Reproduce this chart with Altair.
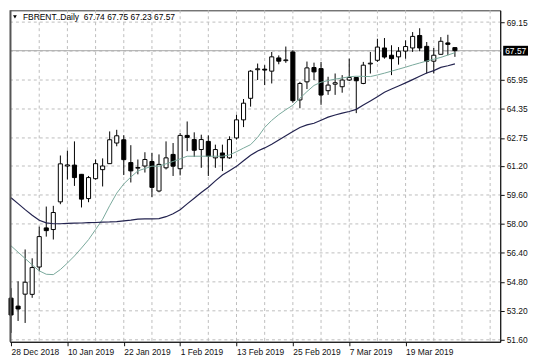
import json
import altair as alt
import pandas as pd

# ---- data (daily Brent candles, 28 Dec 2018 .. 28 Mar 2019) ----
opens = [53.90, 53.46, 54.12, 54.11, 55.62, 57.78, 57.69, 59.22, 61.20, 61.25,
         60.74, 59.40, 60.50, 61.00, 61.33, 62.47, 62.65, 61.39, 61.08, 61.20,
         61.45, 59.82, 61.10, 61.84, 61.05, 62.89, 62.66, 62.11, 62.56, 61.65,
         61.92, 61.65, 62.75, 63.75, 64.94, 66.52, 66.55, 66.44, 67.17, 67.02,
         67.50, 64.85, 65.85, 66.64, 66.58, 65.36, 65.72, 65.58, 65.95, 66.09,
         65.76, 66.84, 67.04, 67.72, 67.32, 67.23, 67.55, 67.72, 68.41, 67.81,
         66.99, 67.37, 68.00, 67.74]
highs = [54.45, 54.83, 56.59, 56.10, 57.85, 58.96, 59.00, 61.78, 62.05, 62.56,
         60.76, 60.65, 61.56, 61.62, 63.11, 63.20, 62.90, 62.35, 61.56, 61.96,
         61.93, 61.84, 62.56, 62.47, 63.02, 63.66, 63.06, 62.93, 62.89, 62.38,
         62.38, 62.84, 64.03, 64.90, 66.50, 66.86, 66.77, 67.50, 67.31, 67.80,
         67.59, 65.85, 66.97, 66.91, 66.95, 66.13, 66.31, 66.22, 67.13, 66.12,
         66.95, 67.50, 68.23, 68.27, 67.87, 67.77, 68.14, 68.60, 68.81, 68.05,
         67.72, 68.32, 68.45, 67.75]
lows = [51.98, 52.64, 52.53, 53.92, 55.38, 57.30, 57.14, 59.09, 60.46, 60.10,
        58.91, 59.20, 60.45, 60.07, 61.33, 62.29, 60.70, 60.29, 60.74, 60.84,
        59.49, 59.75, 61.01, 60.65, 60.68, 62.02, 61.70, 61.10, 60.65, 61.10,
        60.92, 61.60, 62.66, 63.35, 64.48, 65.95, 65.67, 65.76, 66.82, 66.90,
        64.70, 64.39, 65.45, 65.95, 64.58, 65.13, 65.13, 65.25, 65.90, 64.12,
        65.72, 66.31, 66.95, 67.13, 66.22, 66.80, 67.13, 67.50, 67.54, 66.31,
        66.31, 67.37, 67.32, 67.23]
closes = [52.97, 53.30, 54.78, 55.59, 57.30, 57.63, 58.63, 61.32, 61.26, 60.56,
          59.37, 60.56, 61.33, 61.20, 62.65, 62.87, 61.55, 60.93, 61.12, 61.56,
          60.02, 61.29, 61.65, 61.19, 62.89, 62.78, 62.07, 62.66, 61.74, 62.11,
          61.65, 62.66, 63.75, 64.67, 66.44, 66.57, 66.50, 67.23, 66.99, 67.06,
          64.81, 65.76, 66.62, 66.40, 65.12, 65.67, 65.80, 65.95, 66.09, 65.91,
          66.77, 66.88, 67.77, 67.22, 67.13, 67.54, 67.80, 68.36, 67.72, 66.99,
          67.32, 68.09, 67.92, 67.57]

# moving averages
ma_fast = [56.79, 56.44, 56.09, 55.74, 55.41, 55.22, 55.20, 55.48, 55.84, 56.23,
           56.67, 57.13, 57.69, 58.26, 59.01, 59.70, 60.21, 60.59, 60.93, 61.06,
           61.19, 61.19, 61.32, 61.45, 61.59, 61.74, 61.74, 61.74, 61.74, 61.74,
           61.74, 61.81, 61.99, 62.19, 62.38, 62.78, 63.33, 63.72, 64.04, 64.31,
           64.56, 64.94, 65.31, 65.65, 65.83, 65.92, 66.00, 66.06, 66.13, 66.16,
           66.15, 66.14, 66.23, 66.33, 66.44, 66.55, 66.66, 66.78, 66.89, 67.00,
           67.10, 67.20, 67.33, 67.46]
ma_slow = [59.45, 59.12, 58.79, 58.48, 58.20, 58.06, 58.01, 58.01, 58.03, 58.04,
           58.05, 58.07, 58.08, 58.10, 58.11, 58.13, 58.17, 58.21, 58.27, 58.28,
           58.28, 58.29, 58.40, 58.56, 58.78, 59.11, 59.42, 59.74, 60.03, 60.38,
           60.70, 60.94, 61.18, 61.49, 61.79, 62.03, 62.20, 62.40, 62.64, 62.87,
           63.11, 63.33, 63.47, 63.56, 63.73, 63.90, 64.02, 64.12, 64.21, 64.33,
           64.57, 64.79, 65.02, 65.27, 65.45, 65.62, 65.79, 65.97, 66.16, 66.34,
           66.47, 66.65, 66.74, 66.84]

date_labels = ["28 Dec 2018", "10 Jan 2019", "22 Jan 2019", "1 Feb 2019",
               "13 Feb 2019", "25 Feb 2019", "7 Mar 2019", "19 Mar 2019"]
date_ticks = [0, 8, 16, 24, 32, 40, 48, 56]
price_ticks = [51.60, 53.20, 54.80, 56.40, 58.00, 59.60, 61.20, 62.75,
               64.35, 65.95, 69.15]
grid_prices = [51.60, 53.20, 54.80, 56.40, 58.00, 59.60, 61.20, 62.75,
               64.35, 65.95, 67.55, 69.15]
grid_bars = list(range(4, 69, 4))
symbol = "FBRENT..Daily"

# ---- build ----
W, H = 494, 334
FONT = "Liberation Sans"
n = len(closes)
df = pd.DataFrame({"i": list(range(n)), "open": opens, "high": highs,
                   "low": lows, "close": closes, "fast": ma_fast, "slow": ma_slow})
df["up"] = df["close"] >= df["open"]

xscale = alt.Scale(domain=[-0.15, 69.43], nice=False, zero=False)
yscale = alt.Scale(domain=[51.49, 69.80], nice=False, zero=False)
label_expr = json.dumps(date_labels) + "[round(datum.value/8)]"
xaxis = alt.Axis(values=date_ticks, labelExpr=label_expr, labelAlign="left",
                 labelBaseline="top", tickSize=4, labelPadding=2, grid=False,
                 title=None, labelFlush=False, labelOverlap=False)
yaxis = alt.Axis(orient="right", values=price_ticks, format=".2f", tickSize=4,
                 labelPadding=2, grid=False, title=None, labelOverlap=False,
                 labelBaseline="middle")

def X(field):
    return alt.X(field, type="quantitative", scale=xscale, axis=xaxis)

def Y(field):
    return alt.Y(field, type="quantitative", scale=yscale, axis=yaxis)

grid_dash = [3, 3]
vgrid = alt.Chart(pd.DataFrame({"g": grid_bars})).mark_rule(
    color="#bdbdbd", strokeDash=grid_dash, strokeWidth=1).encode(
    x=X("g"), y=alt.value(0), y2=alt.value(H))
hgrid = alt.Chart(pd.DataFrame({"p": grid_prices})).mark_rule(
    color="#bdbdbd", strokeDash=grid_dash, strokeWidth=1).encode(
    y=Y("p"), x=alt.value(0), x2=alt.value(W))

last = closes[-1]
bid = alt.Chart(pd.DataFrame({"p": [last]})).mark_rule(
    color="#a8a8a8", strokeWidth=1).encode(y=Y("p"), x=alt.value(0), x2=alt.value(W))

base = alt.Chart(df)
line_fast = base.mark_line(color="#79a89b", strokeWidth=1).encode(x=X("i"), y=Y("fast"))
line_slow = base.mark_line(color="#23234f", strokeWidth=1.2).encode(x=X("i"), y=Y("slow"))

wicks = base.mark_rule(color="black", strokeWidth=1).encode(
    x=X("i"), y=Y("low"), y2="high")
bodies = base.transform_calculate(
    xa="datum.i - 0.29", xb="datum.i + 0.29"
).mark_rect(stroke="black", strokeWidth=1).encode(
    x=X("xa:Q"), x2="xb:Q", y=Y("open"), y2="close",
    fill=alt.condition("datum.up", alt.value("white"), alt.value("black")))

left_edge = alt.Chart(pd.DataFrame({"a": [0]})).mark_rule(
    color="#555555", strokeWidth=2).encode(x=alt.value(0.5), y=alt.value(0), y2=alt.value(H))

nb = "\u00a0"
head = (f"{symbol}{nb}{nb}{opens[-1]:.2f}{nb}{highs[-1]:.2f}{nb}"
        f"{lows[-1]:.2f}{nb}{closes[-1]:.2f}")
title_txt = alt.Chart(pd.DataFrame({"a": [0]})).mark_text(
    align="left", baseline="alphabetic", font=FONT, fontSize=8.5, color="black").encode(
    x=alt.value(13), y=alt.value(10), text=alt.value(head))
tri = alt.Chart(pd.DataFrame({"a": [0]})).mark_point(
    shape="triangle-down", filled=True, color="black", size=14, opacity=1).encode(
    x=alt.value(5), y=alt.value(6.5))

box_df = pd.DataFrame({"p": [last], "top": [last + 0.27], "bot": [last - 0.27],
                       "t": [f"{last:.2f}"]})
box = alt.Chart(box_df).mark_rect(color="black").encode(
    x=alt.value(W + 3), x2=alt.value(W + 28), y=Y("top"), y2="bot")
box_txt = alt.Chart(box_df).mark_text(
    align="left", baseline="middle", font=FONT, fontSize=8.5, color="white").encode(
    x=alt.value(W + 5), y=Y("p"), text="t:N")

chart = alt.layer(
    vgrid, hgrid, bid, wicks, bodies, line_fast, line_slow,
    left_edge, tri, title_txt, box, box_txt
).properties(width=W, height=H, padding=0, background="white").configure_view(
    stroke="#333333", strokeWidth=1
).configure_axis(
    domainColor="#111111", tickColor="#111111", labelColor="#111111",
    labelFont=FONT, labelFontSize=8.5, domainWidth=1
)

chart.save("out.html", embed_options={"renderer": "svg", "actions": False})
